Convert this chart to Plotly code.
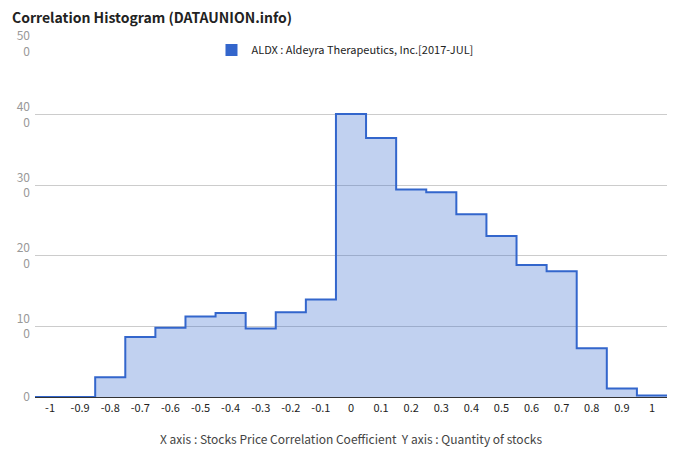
import plotly.graph_objects as go

# Data
x_vals = [-1.0, -0.9, -0.8, -0.7, -0.6, -0.5, -0.4, -0.3, -0.2, -0.1,
          0.0, 0.1, 0.2, 0.3, 0.4, 0.5, 0.6, 0.7, 0.8, 0.9, 1.0]
counts = [0, 0, 28, 85, 98, 114, 119, 97, 120, 138,
          401, 367, 294, 290, 259, 228, 187, 178, 69, 12, 2]
x_tick_text = ["-1", "-0.9", "-0.8", "-0.7", "-0.6", "-0.5", "-0.4", "-0.3", "-0.2", "-0.1",
               "0", "0.1", "0.2", "0.3", "0.4", "0.5", "0.6", "0.7", "0.8", "0.9", "1"]
y_tick_vals = [0, 100, 200, 300, 400, 500]
y_tick_text = ["0", "10<br>0", "20<br>0", "30<br>0", "40<br>0", "50<br>0"]
series_name = "ALDX : Aldeyra Therapeutics, Inc.[2017-JUL]"

half = 0.05
x_ext = [x_vals[0] - half] + x_vals + [x_vals[-1] + half]
y_ext = [counts[0]] + counts + [counts[-1]]

FONT = "Noto Sans CJK KR, Noto Sans, sans-serif"
BLUE = "#3366cc"

W, H = 672, 454  # page has an 8px body offset

fig = go.Figure()
fig.add_trace(go.Scatter(
    x=x_ext, y=y_ext, mode="lines", line=dict(shape="hvh", color=BLUE, width=2),
    fill="tozeroy", fillcolor="rgba(51,102,204,0.3)", showlegend=False,
    hoverinfo="skip",
))
fig.add_trace(go.Scatter(
    x=[None], y=[None], mode="markers", name=series_name,
    marker=dict(symbol="square", size=12, color=BLUE), showlegend=True,
))

fig.update_layout(
    width=W, height=H,
    paper_bgcolor="white", plot_bgcolor="white",
    margin=dict(l=27, r=13, t=36, b=65),
    font=dict(family=FONT, size=11, color="#222"),
    title=dict(text="<b>Correlation Histogram (DATAUNION.info)</b>",
               x=4/W, xanchor="left", y=1-10.5/H, yanchor="middle",
               font=dict(size=14, color="#222", family=FONT)),
    legend=dict(orientation="h", x=0.4905, xanchor="center", y=1.024, yanchor="top",
                font=dict(size=11, color="#222"), bgcolor="rgba(0,0,0,0)",
                itemsizing="constant"),
    xaxis=dict(range=[-1.05, 1.05], tickvals=x_vals, ticktext=x_tick_text,
               showgrid=False, zeroline=False, showline=False, ticks="",
               automargin=False, ticklabelstandoff=3,
               tickfont=dict(size=11, color="#222"),
               title=dict(text="X axis : Stocks Price Correlation Coefficient  Y axis : Quantity of stocks",
                          font=dict(size=12, color="#444"), standoff=21)),
    yaxis=dict(range=[0, 500], tickvals=y_tick_vals, ticktext=y_tick_text,
               showgrid=True, gridcolor="#cccccc", gridwidth=1,
               zeroline=True, zerolinecolor="#333", zerolinewidth=1,
               showline=False, ticks="", tickfont=dict(size=12, color="#999"),
               automargin=False, ticklabelstandoff=4),
)

fig.write_html("out.html")
